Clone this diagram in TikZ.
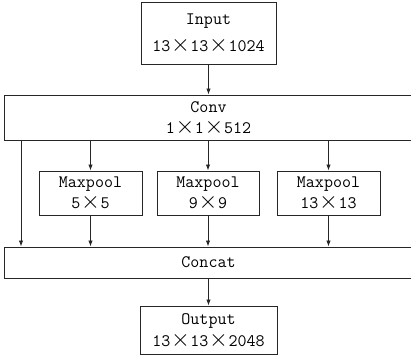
\documentclass[tikz,border=0pt]{standalone}
\usepackage{fontspec}
\usetikzlibrary{arrows.meta}
\newcommand{\mx}{\makebox[1.15em]{\smash{\scalebox{1.4}{$\times$}}}}
\tikzset{
  box/.style={draw=black!85, line width=1pt, inner sep=0pt, align=center,
    font=\ttfamily\fontsize{17.5}{21.5}\selectfont},
  arr/.style={draw=black!85, line width=0.9pt, -{Latex[length=6pt,width=4.5pt]}}
}
\begin{document}
\begin{tikzpicture}[x=1pt,y=-1pt]
\useasboundingbox (0,0) rectangle (411,359);
\node[box, minimum width=135pt, minimum height=62pt, font=\ttfamily\fontsize{17.5}{27}\selectfont] (in) at (208.5,33) {Input\\13\mx13\mx1024};
\node[box, minimum width=409pt, minimum height=45pt] (conv) at (208.5,117.5) {Conv\\1\mx1\mx512};
\node[box, minimum width=103pt, minimum height=44pt] (m1) at (90.5,193) {Maxpool\\5\mx5};
\node[box, minimum width=102pt, minimum height=44pt] (m2) at (208,193) {Maxpool\\9\mx9};
\node[box, minimum width=103pt, minimum height=44pt] (m3) at (328.5,193) {Maxpool\\13\mx13};
\node[box, minimum width=409pt, minimum height=31pt] (cat) at (208.5,262.5) {Concat};
\node[box, minimum width=137pt, minimum height=48pt] (out) at (208.5,330) {Output\\13\mx13\mx2048};
\coordinate (lx) at (21,0);
\draw[arr] (in.south) -- (conv.north);
\draw[arr] (conv.south -| m1.north) -- (m1.north);
\draw[arr] (conv.south -| m2.north) -- (m2.north);
\draw[arr] (conv.south -| m3.north) -- (m3.north);
\draw[arr] (conv.south -| lx) -- (cat.north -| lx);
\draw[arr] (m1.south) -- (cat.north -| m1.south);
\draw[arr] (m2.south) -- (cat.north -| m2.south);
\draw[arr] (m3.south) -- (cat.north -| m3.south);
\draw[arr] (cat.south) -- (out.north);
\end{tikzpicture}
\end{document}
